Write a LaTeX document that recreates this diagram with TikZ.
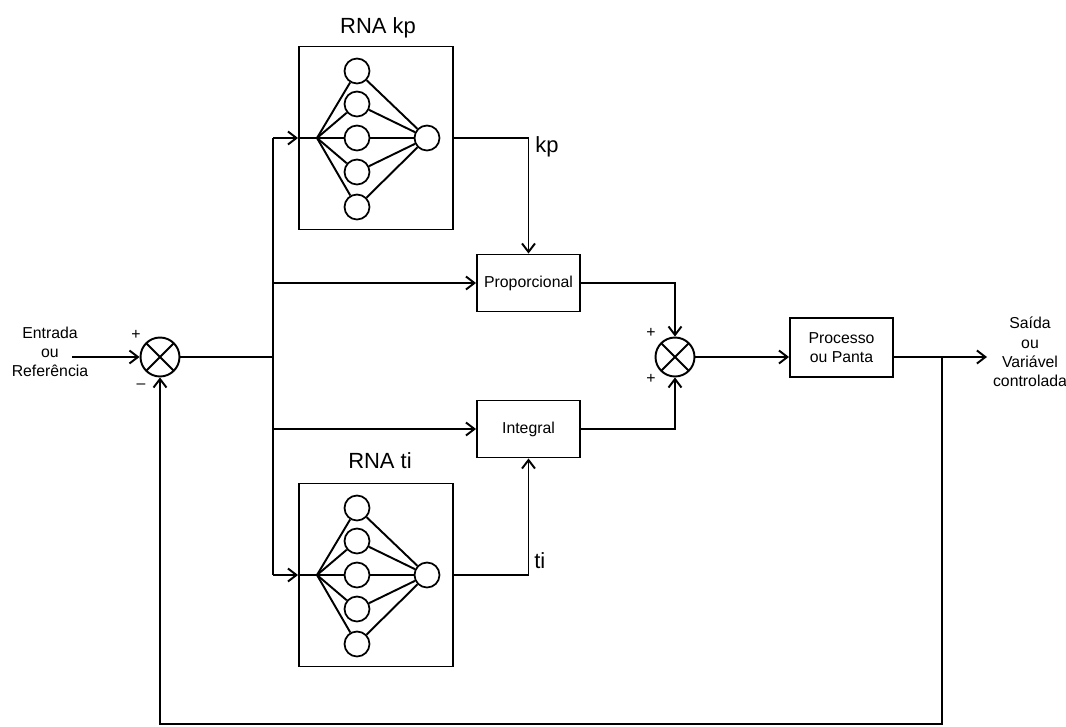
\documentclass[tikz,border=0pt]{standalone}
\usepackage{fontspec}
\setmainfont{Liberation Sans}
\usetikzlibrary{arrows.meta,positioning,calc}
\tikzset{
  blk/.style={draw,line width=1.1pt,minimum width=2.06cm,minimum height=1.14cm,align=center,
    inner sep=1pt,font=\fontsize{9}{11}\selectfont},
  rnabox/.style={draw,line width=1.1pt,minimum width=3.08cm,minimum height=3.66cm},
  neuron/.style={circle,draw,line width=1pt,minimum size=0.5cm,inner sep=0pt,fill=white},
  summer/.style={circle,draw,line width=1.1pt,minimum size=0.78cm,inner sep=0pt,
    path picture={\draw[line width=1.1pt]
      (path picture bounding box.north west) -- (path picture bounding box.south east)
      (path picture bounding box.north east) -- (path picture bounding box.south west);}},
  arr/.style={-{Straight Barb[length=1.7mm,width=2.6mm]},line width=1.1pt},
  wire/.style={line width=1.1pt},
  lbl/.style={align=center,inner sep=0pt,font=\fontsize{9}{11}\selectfont},
  ttl/.style={inner sep=0pt,font=\fontsize{12.5}{15}\selectfont}
}
\newcommand{\rede}[2]{
  \coordinate (#1hub) at (317,#2);
  \foreach \k/\dy in {1/-67,2/-34,3/0,4/34,5/69}
    \node[neuron] (#1h\k) at (357,#2+\dy) {};
  \node[neuron] (#1out) at (427,#2) {};
  \foreach \k in {1,...,5}
    \draw[wire] (#1hub) -- (#1h\k) (#1h\k) -- (#1out);
  \draw[wire] (#1box.west |- #1hub) -- (#1hub);
}

\begin{document}
\begin{tikzpicture}[x=0.02cm,y=-0.02cm]
 \useasboundingbox (0,0) rectangle (1066,727);
 \node[summer] (s1) at (160,357) {};
 \node[lbl] (entrada) at (50,352) {Entrada\\ou\\Referência};
 \coordinate (ein) at (72,357);
 \node[lbl] (s1plus) at (136,335) {+};
 \node[lbl] (s1minus) at (141,386) {\textendash};
 \coordinate (br) at (273,357);

 \node[rnabox] (kpbox) at (376,138) {};
 \node[ttl,anchor=base] (kptitle) at (378,33) {RNA kp};
 \rede{kp}{138}
 \node[rnabox] (tibox) at (376,575) {};
 \node[ttl,anchor=base] (tititle) at (380,468) {RNA ti};
 \rede{ti}{575}

 \node[blk] (prop) at (528.5,283) {Proporcional};
 \node[blk] (integ) at (528.5,429) {Integral};
 \node[summer] (s2) at (675,357) {};
 \node[lbl] (s2plusa) at (651,333) {+};
 \node[lbl] (s2plusb) at (651,379) {+};
 \node[blk,minimum height=1.18cm] (proc) at (841.5,347.5) {Processo\\ou Panta};
 \node[lbl] (saida) at (1030,352) {Saída\\ou\\Variável\\controlada};
 \coordinate (sout) at (987,357);
 \coordinate (fb) at (942,357);

 \node[ttl,anchor=base west] (kplbl) at (535,152) {kp};
 \node[ttl,anchor=base west] (tilbl) at (534,568) {ti};

 \draw[arr] (ein) -- (s1);
 \draw[wire] (s1) -- (br);
 \draw[wire] (br |- kpbox.west) -- (br |- tibox.west);
 \draw[arr] (br |- kpbox.west) -- (kpbox.west);
 \draw[arr] (br |- prop.west) -- (prop.west);
 \draw[arr] (br |- integ.west) -- (integ.west);
 \draw[arr] (br |- tibox.west) -- (tibox.west);

 \draw[arr] (kpbox.east) -| (prop.north);
 \draw[arr] (tibox.east) -| (integ.south);
 \draw[arr] (prop.east) -| (s2.north);
 \draw[arr] (integ.east) -| (s2.south);
 \draw[arr] (s2.east) -- (proc.west |- s2.east);
 \draw[arr] (proc.east |- s2.east) -- (sout);
 \draw[arr] (fb) -- ++(0,367) -| (s1.south);
\end{tikzpicture}
\end{document}
